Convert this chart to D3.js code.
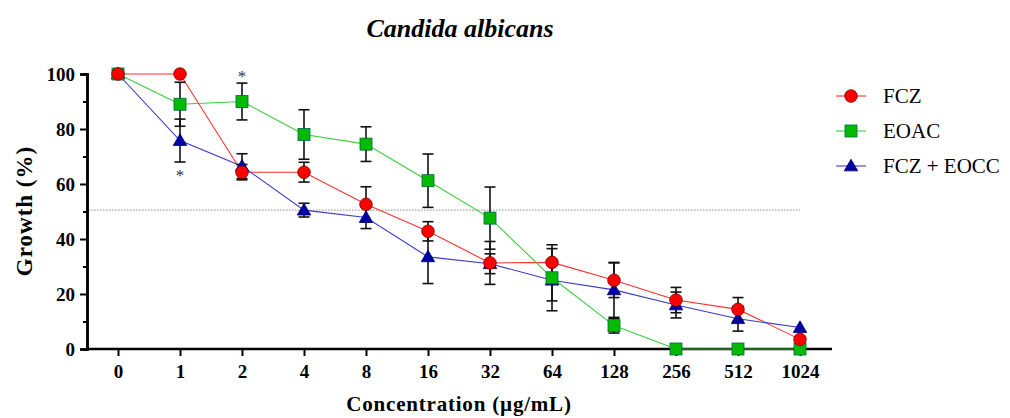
<!DOCTYPE html>
<html><head><meta charset="utf-8">
<script src="https://cdn.jsdelivr.net/npm/d3@7"></script>
<style>body{margin:0;background:#fff}svg{display:block}
svg text{font-family:'Liberation Serif','Times New Roman',Times,Tinos,'DejaVu Serif',serif !important}</style>
</head><body>
<svg id="c" width="1010" height="418"></svg>
<script>
const categories = ["0","1","2","4","8","16","32","64","128","256","512","1024"];
const fczMean = [100,100,64.3,64.3,52.6,42.8,31.3,31.5,25,17.8,14.4,3.5];
const fczErr  = [0,0,2.8,3.6,6.4,3.5,7.8,5,6.3,4.6,4.3,0];
const eoacMean = [100,89,90,78,74.5,61.2,47.6,25.9,8.5,0,0,0];
const eoacErr  = [0,8,6.7,9,6.3,9.7,11.3,12,2.7,0,0,0];
const comboMean = [100,75.8,66.5,50.5,47.8,33.5,31,25,21.5,16,11,7.8];
const comboErr  = [0,7.8,4.5,2.5,4,9.7,3.6,7.5,10,4.7,4.5,0];
const yTicks = [0,20,40,60,80,100];
const yMinor = [10,30,50,70,90];
const refLine = 50.5;

const FONT = "'Liberation Serif','Times New Roman',Times,Tinos,'DejaVu Serif',serif";
const svg = d3.select("#c").attr("font-family",FONT);
const x = d3.scalePoint().domain(categories).range([118,800]);
const y = d3.scaleLinear().domain([0,100]).range([349,74]);

const series = [
  {name:"FCZ", mean:fczMean, err:fczErr, line:"#ff3030", fill:"#ff0000", shape:"circle"},
  {name:"EOAC", mean:eoacMean, err:eoacErr, line:"#3ccc3c", fill:"#00bb00", shape:"square"},
  {name:"FCZ + EOCC", mean:comboMean, err:comboErr, line:"#3a3acc", fill:"#0000a8", shape:"triangle"}
];

svg.append("text").attr("x",460).attr("y",37).attr("text-anchor","middle")
  .attr("font-size",26).attr("font-weight","bold").attr("font-style","italic").text("Candida albicans");

svg.append("line").attr("x1",88).attr("x2",800).attr("y1",y(refLine)).attr("y2",y(refLine))
  .attr("stroke","#888").attr("stroke-width",1).attr("stroke-dasharray","1.5,1.5");

const yAxis = svg.append("g").attr("transform","translate(87,0)")
  .call(d3.axisLeft(y).tickValues(yTicks).tickSize(7).tickPadding(5));
yAxis.append("g").call(d3.axisLeft(y).tickValues(yMinor).tickSize(4).tickFormat(""));
yAxis.selectAll("path.domain").attr("stroke","#000").attr("stroke-width",2.5);
yAxis.selectAll("line").attr("stroke","#000").attr("stroke-width",2);
yAxis.attr("font-family",FONT);
yAxis.selectAll("text").attr("font-size",19).attr("font-weight","bold").attr("fill","#000");

const xAxis = svg.append("g").attr("transform","translate(0,349)")
  .call(d3.axisBottom(x).tickSize(7).tickPadding(9));
xAxis.attr("font-family",FONT);
xAxis.select("path.domain").attr("d","M87,0H832").attr("stroke","#000").attr("stroke-width",2.5);
xAxis.selectAll("line").attr("stroke","#000").attr("stroke-width",2);
xAxis.selectAll("text").attr("font-size",19).attr("font-weight","bold").attr("fill","#000");

svg.append("text").attr("transform","translate(32,211) rotate(-90)").attr("text-anchor","middle")
  .attr("font-size",23).attr("font-weight","bold").attr("letter-spacing",1).text("Growth (%)");
svg.append("text").attr("x",459).attr("y",411).attr("text-anchor","middle")
  .attr("font-size",21).attr("font-weight","bold").attr("letter-spacing",0.8).text("Concentration (µg/mL)");

function marker(g, shape, fill){
  if(shape==="circle") return g.append("circle").attr("r",6.3).attr("fill",fill).attr("stroke","#700").attr("stroke-width",0.8);
  if(shape==="square") return g.append("rect").attr("x",-6).attr("y",-6).attr("width",12).attr("height",12).attr("fill",fill).attr("stroke","#064").attr("stroke-width",0.8);
  return g.append("path").attr("d",d3.symbol().type(d3.symbolTriangle).size(78)()).attr("transform","translate(0,1)").attr("fill",fill).attr("stroke","#000060").attr("stroke-width",0.8);
}

series.forEach(s=>{
  const line = d3.line().x((d,i)=>x(categories[i])).y(d=>y(d));
  svg.append("path").attr("d",line(s.mean)).attr("fill","none").attr("stroke",s.line).attr("stroke-width",1.1);
});
series.forEach(s=>{
  const g = svg.append("g");
  s.mean.forEach((m,i)=>{
    const e = s.err[i]; if(!e) return;
    const cx = x(categories[i]);
    g.append("line").attr("x1",cx).attr("x2",cx).attr("y1",y(m+e)).attr("y2",y(m-e)).attr("stroke","#111").attr("stroke-width",1.6);
    [m+e,m-e].forEach(v=>g.append("line").attr("x1",cx-5.5).attr("x2",cx+5.5).attr("y1",y(v)).attr("y2",y(v)).attr("stroke","#111").attr("stroke-width",1.6));
  });
});
[series[2],series[1],series[0]].forEach(s=>{
  s.mean.forEach((m,i)=>{
    const g = svg.append("g").attr("transform",`translate(${x(categories[i])},${y(m)})`);
    marker(g,s.shape,s.fill);
  });
});

svg.append("text").attr("x",x("1")).attr("y",y(comboMean[1]-comboErr[1])+19).attr("text-anchor","middle").attr("font-size",17).attr("fill","#333").text("*");
svg.append("text").attr("x",x("2")).attr("y",y(eoacMean[2]+eoacErr[2])-1).attr("text-anchor","middle").attr("font-size",17).attr("fill","#333").text("*");

series.forEach((s,i)=>{
  const ly = 96 + i*35;
  svg.append("line").attr("x1",836).attr("x2",866).attr("y1",ly).attr("y2",ly).attr("stroke",s.line).attr("stroke-width",1.1);
  const g = svg.append("g").attr("transform",`translate(851,${ly})`);
  marker(g,s.shape,s.fill);
  svg.append("text").attr("x",883).attr("y",ly+7).attr("font-size",21).text(s.name);
});
</script>
</body></html>
